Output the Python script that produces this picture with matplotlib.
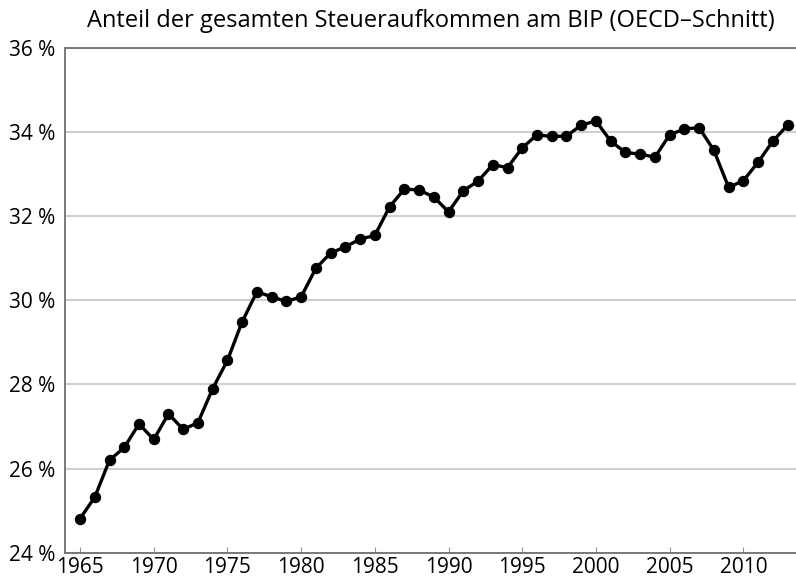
import matplotlib.pyplot as plt

years = list(range(1965, 2014))
share = [24.81, 25.32, 26.20, 26.50, 27.06, 26.69, 27.30, 26.93, 27.09, 27.90,
         28.57, 29.49, 30.20, 30.08, 29.97, 30.08, 30.76, 31.12, 31.27, 31.45,
         31.54, 32.22, 32.64, 32.62, 32.45, 32.10, 32.60, 32.83, 33.22, 33.15,
         33.62, 33.93, 33.89, 33.90, 34.16, 34.26, 33.78, 33.51, 33.47, 33.40,
         33.93, 34.07, 34.10, 33.56, 32.68, 32.84, 33.28, 33.78, 34.16]

x_ticks = [1965, 1970, 1975, 1980, 1985, 1990, 1995, 2000, 2005, 2010]
y_ticks = [24, 26, 28, 30, 32, 34, 36]
title = "Anteil der gesamten Steueraufkommen am BIP (OECD\u2013Schnitt)"

plt.rcParams['font.family'] = ['Open Sans', 'DejaVu Sans']

fig = plt.figure(figsize=(7.96, 5.81), dpi=100)
ax = fig.add_axes([65 / 796, 1 - 552.7 / 581, 1 - 65 / 796, (552.7 - 47.7) / 581])

ax.plot(years, share, color="black", lw=2.4, marker="o", markersize=7.2, zorder=3)

ax.set_xlim(1963.98, 2013.57)
ax.set_ylim(24, 36)
ax.set_xticks(x_ticks)
ax.set_yticks(y_ticks)
ax.set_yticklabels([f"{v} %" for v in y_ticks])

ax.yaxis.grid(True, color="#cfcfcf", lw=1.5)
ax.set_axisbelow(True)

for side in ["left", "top", "bottom"]:
    ax.spines[side].set_color("#707070")
    ax.spines[side].set_linewidth(1.3)
ax.spines["right"].set_visible(False)

ax.tick_params(axis="x", direction="in", length=4, color="#909090", labelsize=15, pad=3)
ax.tick_params(axis="y", length=0, labelsize=15, pad=7)

ax.set_title(title, fontsize=17, pad=15)

fig.savefig("out.png", dpi=100)
